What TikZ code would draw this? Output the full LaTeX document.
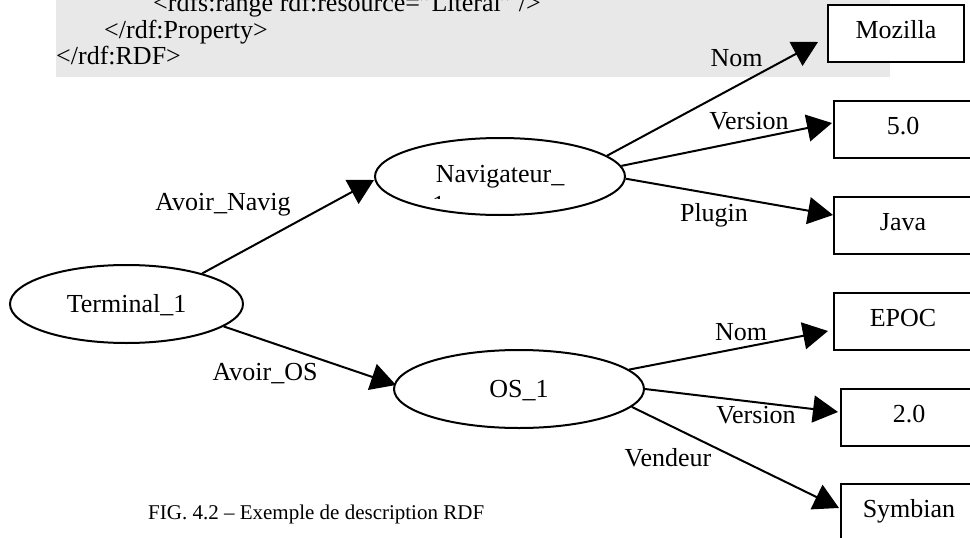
\documentclass[tikz,border=0pt]{standalone}
\usepackage{fontspec}
\setmainfont{Liberation Serif}
\usetikzlibrary{arrows.meta,shapes.geometric}
\definecolor{codebg}{RGB}{232,232,232}
\begin{document}
\begin{tikzpicture}[x=1pt,y=-1pt,
  every node/.style={font=\fontsize{26}{28}\selectfont, inner sep=0pt},
  res/.style={ellipse, draw, line width=2pt, text height=18pt, text depth=2pt},
  lit/.style={rectangle, draw, fill=white, line width=2pt, minimum height=57pt, text height=18pt, text depth=8pt},
  link/.style={line width=2pt, -{Triangle[length=25pt,width=27pt]}},
  lbl/.style={anchor=base}]
\useasboundingbox (0,0) rectangle (970,538);
\clip (0,0) rectangle (970,538);

% tail of the RDF schema listing
\fill[codebg] (56,0) rectangle (890,77);
\node[anchor=base west] (code1) at (153,12) {<rdfs:range rdf:resource="Literal" />};
\node[anchor=base west] (code2) at (104,38) {</rdf:Property>};
\node[anchor=base west] (code3) at (56,64) {</rdf:RDF>};

% resources
\node[res, minimum width=233pt, minimum height=78pt] (term) at (126.5,304) {Terminal\_1};
\node[res, minimum width=250pt, minimum height=77pt, text depth=7pt] (nav) at (500,176.5) {Navigateur\_};
\node[res, minimum width=250pt, minimum height=78pt] (os) at (519,389) {OS\_1};
\begin{scope}
  \clip (425,190) rectangle (455,198.5);
  \node[anchor=base west] (navrest) at (432,213) {1};
\end{scope}

% literals
\node[lit, minimum width=136pt] (moz)  at (896,33.5)  {Mozilla};
\node[lit, minimum width=138pt] (v50)  at (903,129.5) {5.0};
\node[lit, minimum width=138pt] (java) at (903,225.5) {Java};
\node[lit, minimum width=138pt] (epoc) at (903,321.5) {EPOC};
\node[lit, minimum width=136pt] (v20)  at (909,417.5) {2.0};
\node[lit, minimum width=136pt] (symb) at (909,512.5) {Symbian};

% properties
\draw[link] (term.22)  -- ([shift={(0,3.5)}]nav.west);
\draw[link] (term.-13) -- ([shift={(3,-4)}]os.west);
\draw[link] (nav.11)   -- ([shift={(-9,8.5)}]moz.west);
\draw[link] (nav.5)    -- ([shift={(-1,-6.5)}]v50.west);
\draw[link] (nav.-1)   -- ([shift={(0,-10.5)}]java.west);
\draw[link] (os.10)    -- ([shift={(-5,9.5)}]epoc.west);
\draw[link] (os.0)     -- ([shift={(-2,-5.5)}]v20.west);
\draw[link] (os.-9)    -- ([shift={(-1,-4.5)}]symb.west);

\node[lbl] (lnavig) at (223,210)   {Avoir\_Navig};
\node[lbl] (los)    at (265,380)   {Avoir\_OS};
\node[lbl] (lnom1)  at (736.5,66)  {Nom};
\node[lbl] (lver1)  at (749,129)   {Version};
\node[lbl] (lplug)  at (714,221)   {Plugin};
\node[lbl] (lnom2)  at (741,340)   {Nom};
\node[lbl] (lver2)  at (756,423)   {Version};
\node[lbl] (lvend)  at (668,466)   {Vendeur};

% caption
\node[anchor=base west, font=\fontsize{21}{24}\selectfont] (caption) at (148,519)
  {FIG. 4.2 \textendash{} Exemple de description RDF};
\end{tikzpicture}
\end{document}
